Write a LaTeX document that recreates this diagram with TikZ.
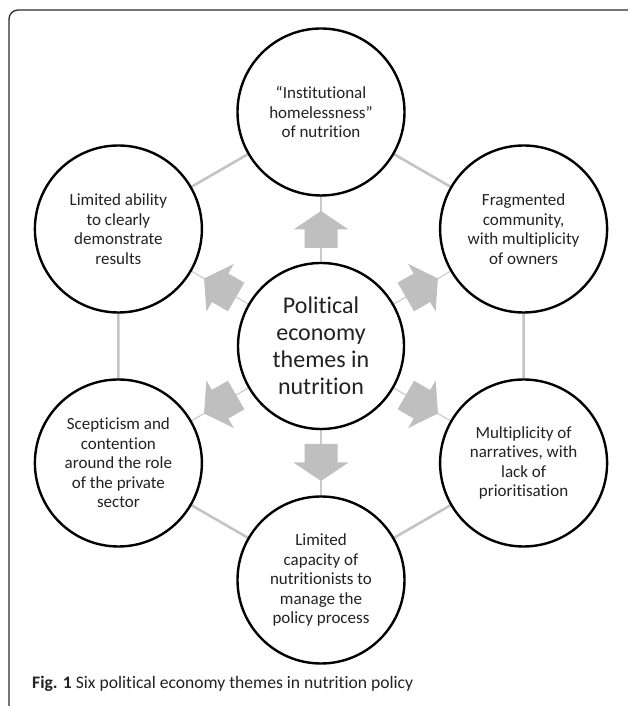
\documentclass[tikz,border=0pt]{standalone}
\usepackage{fontspec}
\setmainfont{Carlito}[RawFeature={-liga;-clig;-calt;-dlig;-rlig}]
\definecolor{hexgray}{HTML}{C4C4C4}
\definecolor{spokegray}{HTML}{CACACA}
\definecolor{arrowgray}{HTML}{BFBFBF}
\definecolor{txt}{HTML}{222222}
\definecolor{framec}{HTML}{2A2A2A}
\begin{document}
\begin{tikzpicture}[x=1pt,y=1pt,
  theme/.style={circle,draw=black,line width=2.4pt,fill=white,minimum size=167pt,inner sep=0pt,
    align=center,text=txt,font=\fontsize{17}{19.5}\selectfont},
  hub/.style={theme,minimum size=166pt,font=\fontsize{24}{27}\selectfont},
  hexline/.style={draw=hexgray,line width=2.6pt},
  spoke/.style={draw=spokegray,line width=1.1pt},
  blockarrow/.style={fill=arrowgray}]
\useasboundingbox (0,0) rectangle (627,706);
% frame
\draw[framec,line width=1.3pt,rounded corners=9pt] (9,-2) -- (9,696) -- (629,696);
% node positions
\coordinate (pc) at (321,360);
\coordinate (p1) at (321,594);
\coordinate (p2) at (523.6,477);
\coordinate (p3) at (523.6,243);
\coordinate (p4) at (321,126);
\coordinate (p5) at (118.4,243);
\coordinate (p6) at (118.4,477);
% connectors (behind circles)
\draw[hexline] (p1) -- (p2) -- (p3) -- (p4) -- (p5) -- (p6) -- cycle;
\foreach \i in {1,...,6} \draw[spoke] (pc) -- (p\i);
% block arrows
\foreach \a in {90,30,-30,-90,-150,150}{
  \begin{scope}[shift={(pc)},rotate=\a]
    \fill[blockarrow] (98,-16.5) -- (116.5,-16.5) -- (116.5,-27.5) -- (135,0)
      -- (116.5,27.5) -- (116.5,16.5) -- (98,16.5) -- cycle;
  \end{scope}}
% circles
\node[hub] (c) at (pc) {Political\\economy\\themes in\\nutrition};
\node[theme] (n1) at (p1) {“Institutional\\homelessness”\\of nutrition};
\node[theme] (n2) at (p2) {Fragmented\\community,\\with multiplicity\\of owners};
\node[theme] (n3) at (p3) {Multiplicity of\\narratives, with\\lack of\\prioritisation};
\node[theme] (n4) at (p4) {Limited\\capacity of\\nutritionists to\\manage the\\policy process};
\node[theme] (n5) at (p5) {Scepticism and\\contention\\around the role\\of the private\\sector};
\node[theme] (n6) at (p6) {Limited ability\\to clearly\\demonstrate\\results};
% caption
\node[anchor=base west,inner sep=0pt,text=txt,font=\fontsize{17.6}{21}\selectfont] (cap) at (32,17)
  {\textbf{Fig. 1} Six political economy themes in nutrition policy};
\end{tikzpicture}
\end{document}
